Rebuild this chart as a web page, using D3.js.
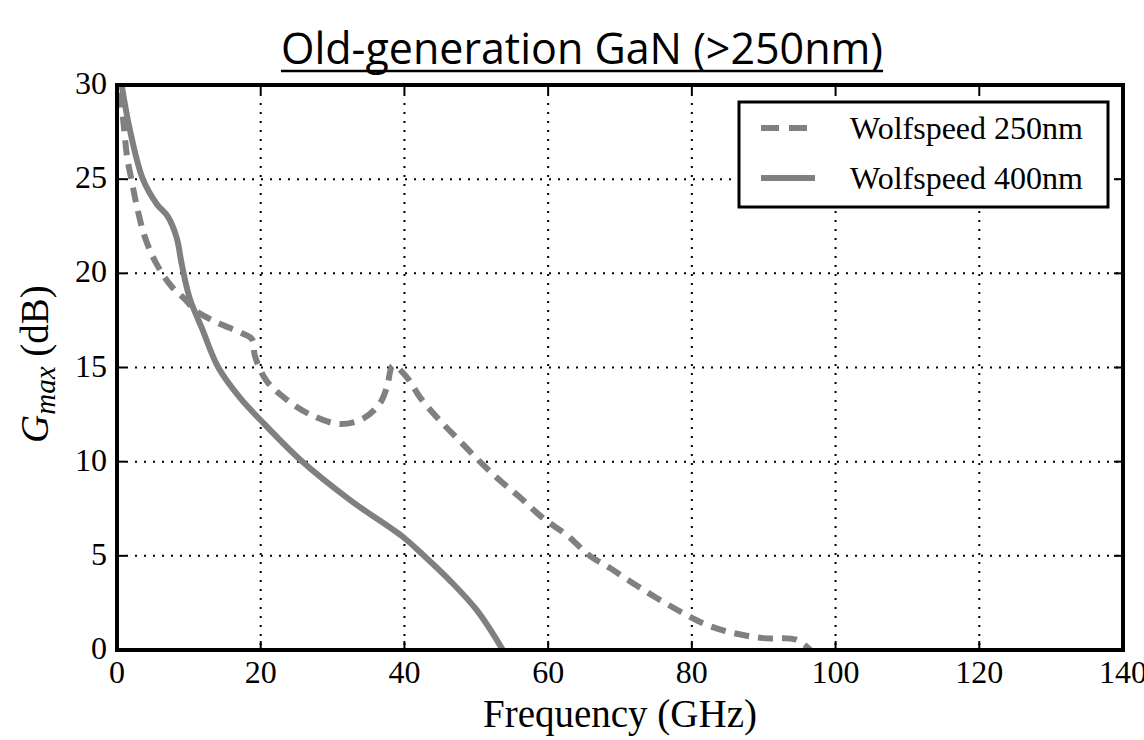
<!DOCTYPE html>
<html>
<head>
<meta charset="utf-8">
<script src="https://cdn.jsdelivr.net/npm/d3@7"></script>
<style>
  body { margin: 0; background: #fff; }
</style>
</head>
<body>
<div id="viz"></div>
<script>
(function() {

// Values (GHz, dB).
const freq250 = [0.4, 0.9, 1.4, 2.1, 2.8, 3.9, 5.5, 7.6, 9.5, 11, 13.9, 17.5, 18.8, 19.2, 20.8, 23.6, 26.9, 31, 34.3, 36.6, 37.6, 38.4, 40.3, 42.2, 44.9, 47.7, 50.5, 53.3, 56.1, 59.3, 62.6, 65.8, 68.6, 71.8, 75.1, 78.8, 82.1, 85.8, 89.9, 94.5, 96.5];
const gmax250 = [29.6, 28, 26.2, 24.8, 23.5, 21.9, 20.5, 19.3, 18.6, 18, 17.4, 16.8, 16.5, 15.6, 14.3, 13.3, 12.5, 12.0, 12.3, 13.1, 14, 15.1, 14.5, 13.4, 12.2, 11.1, 10, 9.0, 8.1, 7.0, 6.1, 5.0, 4.35, 3.55, 2.76, 1.96, 1.33, 0.9, 0.63, 0.55, 0];
const freq400 = [0.7, 1.8, 3.6, 5.5, 7.1, 8.3, 9.0, 10.1, 11.8, 14.1, 17.1, 20, 25.5, 32.4, 39.8, 42.6, 46.3, 50.1, 53.7];
const gmax400 = [29.9, 27.6, 25, 23.7, 23, 21.9, 20.5, 18.7, 17.1, 15, 13.4, 12.2, 10.1, 7.97, 6.0, 5.05, 3.7, 2.1, 0];
const seriesNames = ["Wolfspeed 250nm", "Wolfspeed 400nm"];
const xTicks = [0, 20, 40, 60, 80, 100, 120, 140];
const yTicks = [0, 5, 10, 15, 20, 25, 30];

let canvasWidth = 1144;
let canvasHeight = 740;
let left = 117, right = 1123, top = 85, bottom = 650;
let serif = "'Liberation Serif', 'Times New Roman', serif";
let lineColor = "#808080";

let svg = d3.select("#viz").append("svg")
  .attr("width", canvasWidth)
  .attr("height", canvasHeight);

let x = d3.scaleLinear().domain([0, 140]).range([left, right]);
let y = d3.scaleLinear().domain([0, 30]).range([bottom, top]);

// Title, underlined
let title = svg.append("text")
  .attr("x", 582)
  .attr("y", 64)
  .attr("text-anchor", "middle")
  .attr("font-family", "'Open Sans', sans-serif")
  .attr("font-size", 43)
  .attr("fill", "#000")
  .text("Old-generation GaN (>250nm)");
let tb = title.node().getBBox();
svg.append("line")
  .attr("x1", tb.x).attr("x2", tb.x + tb.width)
  .attr("y1", 71).attr("y2", 71)
  .attr("stroke", "#000").attr("stroke-width", 2.5);

// Grid lines (dotted)
let grid = svg.append("g");
grid.selectAll("line.vx")
  .data(xTicks.slice(1, -1))
  .enter().append("line")
    .attr("x1", (d) => x(d)).attr("x2", (d) => x(d))
    .attr("y1", top).attr("y2", bottom)
    .attr("stroke", "#000").attr("stroke-width", 2)
    .attr("stroke-dasharray", "2,7");
grid.selectAll("line.hy")
  .data(yTicks.slice(1, -1))
  .enter().append("line")
    .attr("x1", left).attr("x2", right)
    .attr("y1", (d) => y(d)).attr("y2", (d) => y(d))
    .attr("stroke", "#000").attr("stroke-width", 2)
    .attr("stroke-dasharray", "2,7");

// Curves
svg.append("clipPath").attr("id", "plotClip")
  .append("rect")
    .attr("x", left).attr("y", top)
    .attr("width", right - left).attr("height", bottom - top);

let line = d3.line()
  .curve(d3.curveCatmullRom.alpha(0.5))
  .x((d) => x(d[0]))
  .y((d) => y(d[1]));

let curves = svg.append("g").attr("clip-path", "url(#plotClip)");
curves.append("path")
  .attr("d", line(d3.zip(freq250, gmax250)))
  .attr("fill", "none")
  .attr("stroke", lineColor)
  .attr("stroke-width", 6)
  .attr("stroke-dasharray", "15,9");
curves.append("path")
  .attr("d", line(d3.zip(freq400, gmax400)))
  .attr("fill", "none")
  .attr("stroke", lineColor)
  .attr("stroke-width", 6)
  .attr("stroke-linejoin", "round");

// Ticks on all four sides, pointing inwards
let tickLen = 9;
let ticks = svg.append("g").attr("stroke", "#000").attr("stroke-width", 2);
xTicks.forEach((t) => {
  ticks.append("line").attr("x1", x(t)).attr("x2", x(t)).attr("y1", bottom).attr("y2", bottom - tickLen);
  ticks.append("line").attr("x1", x(t)).attr("x2", x(t)).attr("y1", top).attr("y2", top + tickLen);
});
yTicks.forEach((t) => {
  ticks.append("line").attr("x1", left).attr("x2", left + tickLen).attr("y1", y(t)).attr("y2", y(t));
  ticks.append("line").attr("x1", right).attr("x2", right - tickLen).attr("y1", y(t)).attr("y2", y(t));
});

// Frame
svg.append("rect")
  .attr("x", left).attr("y", top)
  .attr("width", right - left).attr("height", bottom - top)
  .attr("fill", "none")
  .attr("stroke", "#000")
  .attr("stroke-width", 4);

// Tick labels
svg.append("g").selectAll("text")
  .data(xTicks)
  .enter().append("text")
    .attr("x", (d) => x(d))
    .attr("y", 683)
    .attr("text-anchor", "middle")
    .attr("font-family", serif)
    .attr("font-size", 32)
    .text((d) => d);
svg.append("g").selectAll("text")
  .data(yTicks)
  .enter().append("text")
    .attr("x", 107)
    .attr("y", (d) => y(d) + 9)
    .attr("text-anchor", "end")
    .attr("font-family", serif)
    .attr("font-size", 32)
    .text((d) => d);

// Axis labels
svg.append("text")
  .attr("x", (left + right) / 2)
  .attr("y", 727)
  .attr("text-anchor", "middle")
  .attr("font-family", serif)
  .attr("font-size", 39)
  .text("Frequency (GHz)");

let yLabel = svg.append("text")
  .attr("transform", "translate(48," + 364 + ") rotate(-90)")
  .attr("text-anchor", "middle")
  .attr("font-family", serif)
  .attr("font-size", 39);
yLabel.append("tspan").attr("font-style", "italic").text("G");
yLabel.append("tspan").attr("font-style", "italic").attr("font-size", 29).attr("dy", 7).text("max");
yLabel.append("tspan").attr("dy", -7).text(" (dB)");

// Legend
let legend = svg.append("g");
legend.append("rect")
  .attr("x", 739).attr("y", 102)
  .attr("width", 369).attr("height", 105)
  .attr("fill", "#fff")
  .attr("stroke", "#000")
  .attr("stroke-width", 3);
let legendRows = [
  { name: seriesNames[0], dash: "18,10", y: 128 },
  { name: seriesNames[1], dash: null, y: 178 }
];
legendRows.forEach((r) => {
  legend.append("line")
    .attr("x1", 761).attr("x2", 815)
    .attr("y1", r.y).attr("y2", r.y)
    .attr("stroke", lineColor)
    .attr("stroke-width", 6)
    .attr("stroke-dasharray", r.dash);
  legend.append("text")
    .attr("x", 850)
    .attr("y", r.y + 11)
    .attr("font-family", serif)
    .attr("font-size", 32)
    .text(r.name);
});

})();
</script>
</body>
</html>
